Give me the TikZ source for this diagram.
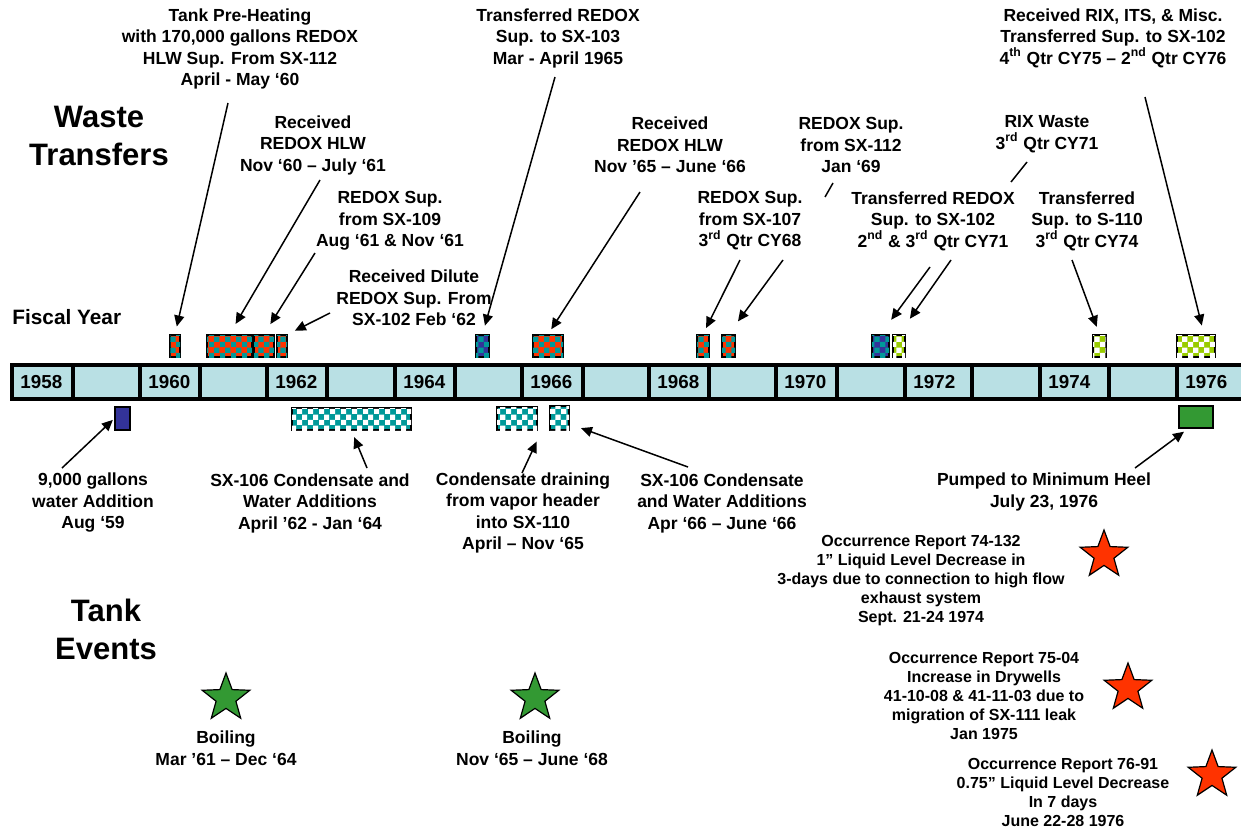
\documentclass[tikz,border=0pt]{standalone}
\usepackage{fontspec}
\setmainfont{Liberation Sans}
\usetikzlibrary{arrows.meta,patterns,shapes.geometric,fit}
\definecolor{hlwred}{RGB}{255,51,0}
\definecolor{supteal}{RGB}{0,153,153}
\definecolor{navyblue}{RGB}{51,51,153}
\definecolor{limegreen}{RGB}{153,204,0}
\definecolor{heelgreen}{RGB}{51,153,51}
\definecolor{barblue}{RGB}{185,224,228}

% coarse checker used for the transfer bars
\pgfdeclarepatternformonly{ballgrid}{\pgfpointorigin}{\pgfqpoint{5.5pt}{5.5pt}}{\pgfqpoint{5.5pt}{5.5pt}}{%
  \pgfpathrectangle{\pgfpointorigin}{\pgfqpoint{2.75pt}{2.75pt}}%
  \pgfpathrectangle{\pgfqpoint{2.75pt}{2.75pt}}{\pgfqpoint{2.75pt}{2.75pt}}%
  \pgfusepath{fill}}

\tikzset{
  lbl/.style={font=\bfseries\fontsize{8.75}{10.75}\selectfont, align=center, inner sep=0pt},
  occ/.style={font=\bfseries\fontsize{8}{9.5}\selectfont, align=center, inner sep=0pt},
  head/.style={font=\bfseries\fontsize{15.5}{19}\selectfont, align=center, inner sep=0pt},
  yr/.style={font=\bfseries\fontsize{9.4}{11}\selectfont, anchor=west, inner sep=0pt},
  cell/.style={draw=black, line width=1.75pt, fill=barblue},
  blk/.style={draw=black, line width=0.7pt, inner sep=0pt},
  hlw/.style={blk, fill=hlwred, postaction={pattern=ballgrid, pattern color=supteal}},
  bluesup/.style={blk, fill=navyblue, postaction={pattern=ballgrid, pattern color=supteal}},
  rix/.style={blk, fill=limegreen, postaction={pattern=ballgrid, pattern color=white}},
  cond/.style={blk, fill=supteal, postaction={pattern=ballgrid, pattern color=white}},
  evstar/.style={star, star points=5, star point ratio=2.4, minimum size=25pt, inner sep=0pt, draw=black, line width=0.6pt},
  arr/.style={-{Triangle[length=5.5pt,width=5pt]}, line width=0.75pt},
}

\begin{document}
\begin{tikzpicture}[x=0.5pt, y=-0.5pt]
    \useasboundingbox (0,0) rectangle (1241,831);

    % headings
    \node[head] (wt) at (99,136) {Waste\\Transfers};
    \node[head] (te) at (106,629) {Tank\\Events};
    \node[font=\bfseries\fontsize{10.4}{12}\selectfont, anchor=west, inner sep=0pt] (fy) at (12,317) {Fiscal Year};

    % fiscal year bar
    \foreach \xa/\xb/\yy in {12/73/1958, 73/140/, 140/200/1960, 200/267/, 267/327/1962, 327/395/,
        395/455/1964, 455/522/, 522/583/1966, 583/649/, 649/709/1968, 709/776/, 776/837/1970,
        837/905/, 905/972/1972, 972/1040/, 1040/1109/1974, 1109/1177/, 1177/1250/1976} {
      \draw[cell] (\xa,365) rectangle (\xb,399);
      \node[yr] (yr\xa) at (\xa+8,382) {\yy};
    }

    % transfers above the bar
    \node[hlw, fit={(170,335) (180,357)}] (b1) {};
    \node[hlw, fit={(207,335) (252,357)}] (b2) {};
    \node[hlw, fit={(254,335) (274,357)}] (b3) {};
    \node[hlw, fit={(277,335) (287,357)}] (b4) {};
    \node[bluesup, fit={(476,335) (489,357)}] (b5) {};
    \node[hlw, fit={(533,335) (563,357)}] (b6) {};
    \node[hlw, fit={(697,335) (709,357)}] (b7) {};
    \node[hlw, fit={(722,335) (735,357)}] (b8) {};
    \node[bluesup, fit={(872,335) (889,357)}] (b9) {};
    \node[rix, fit={(893,335) (905,357)}] (b10) {};
    \node[rix, fit={(1093,335) (1106,357)}] (b11) {};
    \node[rix, fit={(1177,335) (1215,357)}] (b12) {};

    % additions below the bar
    \node[blk, fill=navyblue, fit={(115,407) (130,430)}] (c1) {};
    \node[cond, fit={(292,408) (411,430)}] (c2) {};
    \node[cond, fit={(497,407) (537,430)}] (c3) {};
    \node[cond, fit={(550,406) (569,430)}] (c4) {};
    \node[blk, fill=heelgreen, fit={(1179,406) (1213,428)}] (c5) {};

    % labels, top
    \node[lbl] (pre) at (240,49) {Tank Pre-Heating\\with 170,000 gallons REDOX\\HLW Sup. From SX-112\\April - May ‘60};
    \node[lbl] (hlwA) at (313,145) {Received\\REDOX HLW\\Nov ‘60 – July ‘61};
    \node[lbl] (sup109) at (390,221) {REDOX Sup.\\from SX-109\\Aug ‘61 \& Nov ‘61};
    \node[lbl] (dilute) at (414,298) {Received Dilute\\REDOX Sup. From\\SX-102 Feb ‘62};
    \node[lbl] (to103) at (558,38) {Transferred REDOX\\Sup. to SX-103\\Mar - April 1965};
    \node[lbl] (hlwB) at (670,145) {Received\\REDOX HLW\\Nov ’65 – June ‘66};
    \node[lbl] (sup107) at (750,221) {REDOX Sup.\\from SX-107\\3\textsuperscript{rd} Qtr CY68};
    \node[lbl] (sup112) at (851,145) {REDOX Sup.\\from SX-112\\Jan ‘69};
    \node[lbl] (rixw) at (1047,134) {RIX Waste\\3\textsuperscript{rd} Qtr CY71};
    \node[lbl] (to102) at (933,221) {Transferred REDOX\\Sup. to SX-102\\2\textsuperscript{nd} \& 3\textsuperscript{rd} Qtr CY71};
    \node[lbl] (to110) at (1087,221) {Transferred\\Sup. to S-110\\3\textsuperscript{rd} Qtr CY74};
    \node[lbl] (rixits) at (1113,38) {Received RIX, ITS, \& Misc.\\Transferred Sup. to SX-102\\4\textsuperscript{th} Qtr CY75 – 2\textsuperscript{nd} Qtr CY76};

    % labels, bottom
    \node[lbl] (gal) at (93,503) {9,000 gallons\\water Addition\\Aug ‘59};
    \node[lbl] (condA) at (310,503) {SX-106 Condensate and\\Water Additions\\April ’62 - Jan ‘64};
    \node[lbl] (drain) at (523,513) {Condensate draining\\from vapor header\\into SX-110\\April – Nov ‘65};
    \node[lbl] (condB) at (722,503) {SX-106 Condensate\\and Water Additions\\Apr ‘66 – June ‘66};
    \node[lbl] (heel) at (1044,492) {Pumped to Minimum Heel\\July 23, 1976};

    % tank events
    \node[evstar, fill=heelgreen] (boilA) at (226,698) {};
    \node[evstar, fill=heelgreen] (boilB) at (535,698) {};
    \node[lbl] (boilAt) at (226,748) {Boiling\\Mar ’61 – Dec ‘64};
    \node[lbl] (boilBt) at (532,748) {Boiling\\Nov ‘65 – June ‘68};
    \node[evstar, fill=hlwred] (orA) at (1104,555) {};
    \node[evstar, fill=hlwred] (orB) at (1128,688) {};
    \node[evstar, fill=hlwred] (orC) at (1212,775) {};
    \node[occ] (orAt) at (921,581) {Occurrence Report 74-132\\1” Liquid Level Decrease in\\3-days due to connection to high flow\\exhaust system\\Sept. 21-24 1974};
    \node[occ] (orBt) at (984,696) {Occurrence Report 75-04\\Increase in Drywells\\41-10-08 \& 41-11-03 due to\\migration of SX-111 leak\\Jan 1975};
    \node[occ] (orCt) at (1063,792) {Occurrence Report 76-91\\0.75” Liquid Level Decrease\\In 7 days\\June 22-28 1976};

    % arrow tails
    \coordinate (t1) at (228,103);
    \coordinate (t2) at (320,180);
    \coordinate (t3) at (315,253);
    \coordinate (t4) at (330,313);
    \coordinate (t5) at (555,77);
    \coordinate (t6) at (640,192);
    \coordinate (t7) at (740,260);
    \coordinate (t8) at (783,260);
    \coordinate (t9) at (930,267);
    \coordinate (t10) at (951,260);
    \coordinate (t11) at (1072,260);
    \coordinate (t12) at (1145,97);
    \coordinate (u1) at (62,468);
    \coordinate (u2) at (367,468);
    \coordinate (u3) at (522,473);
    \coordinate (u4) at (688,467);
    \coordinate (u5) at (1135,468);

    \draw[arr, shorten >=4pt] (t1) -- (b1.north);
    \draw[arr, shorten >=6pt] (t2) -- (b2.north);
    \draw[arr, shorten >=6pt] (t3) -- (b3.north);
    \draw[arr, shorten >=4pt] (t4) -- (b4.north east);
    \draw[arr, shorten >=4.5pt] (t5) -- (b5.north);
    \draw[arr, shorten >=3pt] (t6) -- (b6.north);
    \draw[arr, shorten >=3.5pt] (t7) -- (b7.north);
    \draw[arr, shorten >=8pt] (t8) -- (b8.north);
    \draw[arr, shorten >=9pt] (t9) -- (b9.north);
    \draw[arr, shorten >=9.5pt] (t10) -- (b10.north);
    \draw[arr, shorten >=4pt] (t11) -- (b11.north);
    \draw[arr, shorten >=4.5pt] (t12) -- ([xshift=4pt]b12.north);
    \draw[arr, shorten >=1pt] (u1) -- (c1.west);
    \draw[arr, shorten >=3.5pt] (u2) -- (c2.south);
    \draw[arr, shorten >=6pt] (u3) -- ([xshift=2pt]c3.south east);
    \draw[arr, shorten >=6pt] (u4) -- ([yshift=-3pt]c4.east);
    \draw[arr, shorten >=2.5pt] (u5) -- ([xshift=-4pt]c5.south);

    % short leader stubs
    \coordinate (s1a) at (833,183);
    \coordinate (s1b) at (825,197);
    \coordinate (s2a) at (1027,162);
    \coordinate (s2b) at (1011,182);
    \draw[line width=0.75pt] (s1a) -- (s1b);
    \draw[line width=0.75pt] (s2a) -- (s2b);
\end{tikzpicture}
\end{document}
